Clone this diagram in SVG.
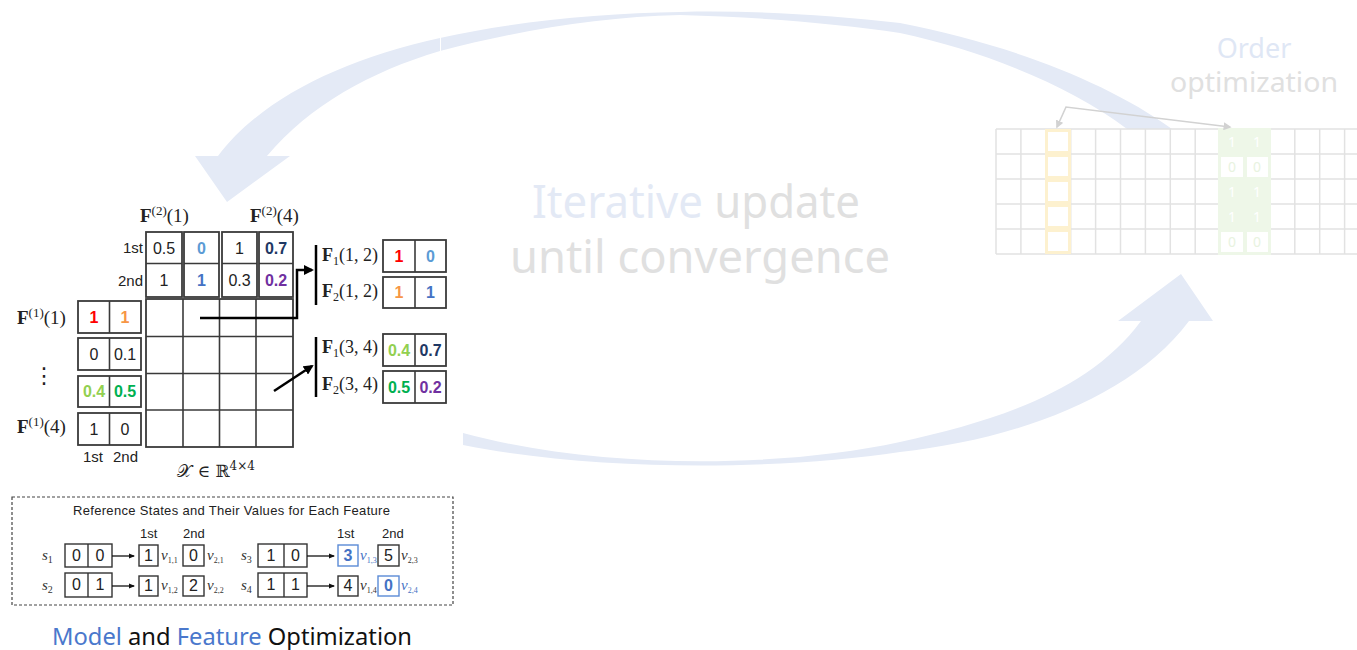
<svg xmlns="http://www.w3.org/2000/svg" width="1357" height="650" viewBox="0 0 1357 650">
  <defs>
    <style>
      .cell { fill: #ffffff; stroke: #3a3a3a; stroke-width: 1.8; }
      .grid { fill: none; stroke: #3a3a3a; stroke-width: 1.6; }
      .num { font-family: "Liberation Sans", Arial, sans-serif; font-size: 16px; text-anchor: middle; fill: #222; }
      .b { font-weight: bold; }
      .lbl { font-family: "Liberation Sans", Arial, sans-serif; font-size: 15px; fill: #222; }
      .math { font-family: "Liberation Serif", "Times New Roman", serif; font-size: 19px; fill: #222; }
      .pair { font-size: 18px; }
      .small { font-family: "Liberation Sans", Arial, sans-serif; font-size: 13px; fill: #222; }
      .sbox { fill: #ffffff; stroke: #333; stroke-width: 1.4; }
      .bbox { fill: #ffffff; stroke: #5b8bd6; stroke-width: 1.4; }
      .ital { font-family: "Liberation Serif", "Times New Roman", serif; font-style: italic; font-size: 15px; fill: #333; }
      .flow { fill: #e4eaf6; }
      .og { fill: none; stroke: #e2e2e2; stroke-width: 1.5; }
      .big { font-family: "Noto Sans", "Open Sans", sans-serif; }
      /* value colours */
      .red { fill: #ff0000; }
      .orange { fill: #f79646; }
      .sky { fill: #5b9bd5; }
      .blue { fill: #4472c4; }
      .lime { fill: #92d050; }
      .green { fill: #00b050; }
      .navy { fill: #1f3864; }
      .purple { fill: #7030a0; }
    </style>
    <marker id="ah" viewBox="0 0 10 10" refX="8" refY="5" markerWidth="4" markerHeight="4" orient="auto">
      <path d="M0,0 L10,5 L0,10 z" fill="#000"/>
    </marker>
    <marker id="ahs" viewBox="0 0 10 10" refX="8" refY="5" markerWidth="5" markerHeight="5" orient="auto">
      <path d="M0,1 L10,5 L0,9 z" fill="#111"/>
    </marker>
    <marker id="ahg" viewBox="0 0 10 10" refX="8" refY="5" markerWidth="5" markerHeight="5" orient="auto-start-reverse">
      <path d="M0,0 L10,5 L0,10 z" fill="#d2d2d2"/>
    </marker>
  </defs>

  <!-- cycle arrows -->
  <g id="cycle-arrows">
    <path class="flow" d="M1172,129 C1105,80 1000,42 900,23 C830,15 750,10 680,12 C600,13 510,22 440,38 C340,60 260,100 218,156 L195,156 L227,202 L290,156 L267,156 C310,105 370,72 440,51 C520,30 600,17 680,15 C760,17 840,24 900,33 C980,50 1070,85 1127,129 Z"/>
    <line x1="440.5" y1="37" x2="440.5" y2="52" stroke="#ffffff" stroke-width="1"/>
    <path class="flow" d="M463,433 C600,470 780,468 900,442 C1000,420 1090,390 1141,321 L1118,321 L1181,274 L1213,321 L1189,321 C1130,400 1010,440 900,452 C780,470 600,472 463,445 Z"/>
  </g>

  <!-- centre caption -->
  <g id="caption-iterate" class="big">
    <text x="532" y="218" font-size="45" textLength="328" lengthAdjust="spacingAndGlyphs"><tspan fill="#e3e9f5">Iterative</tspan><tspan fill="#e0e0e0"> update</tspan></text>
    <text x="510" y="273" font-size="45" fill="#e0e0e0" textLength="380" lengthAdjust="spacingAndGlyphs">until convergence</text>
  </g>

  <!-- order optimisation panel -->
  <g id="order-panel">
    <text class="big" x="1254" y="58" font-size="27" fill="#dfe7f5" text-anchor="middle">Order</text>
    <text class="big" x="1254" y="92" font-size="27" fill="#e0e0e0" text-anchor="middle" textLength="168" lengthAdjust="spacingAndGlyphs">optimization</text>
    <rect x="996" y="129" width="361" height="125" fill="#ffffff"/>
    <g class="og">
      <line x1="996" y1="129" x2="1357" y2="129"/>
      <line x1="996" y1="154" x2="1357" y2="154"/>
      <line x1="996" y1="179" x2="1357" y2="179"/>
      <line x1="996" y1="204" x2="1357" y2="204"/>
      <line x1="996" y1="229" x2="1357" y2="229"/>
      <line x1="996" y1="254" x2="1357" y2="254"/>
      <line x1="996" y1="129" x2="996" y2="254"/>
      <line x1="1020.9" y1="129" x2="1020.9" y2="254"/>
      <line x1="1045.8" y1="129" x2="1045.8" y2="254"/>
      <line x1="1070.7" y1="129" x2="1070.7" y2="254"/>
      <line x1="1095.6" y1="129" x2="1095.6" y2="254"/>
      <line x1="1120.5" y1="129" x2="1120.5" y2="254"/>
      <line x1="1145.4" y1="129" x2="1145.4" y2="254"/>
      <line x1="1170.3" y1="129" x2="1170.3" y2="254"/>
      <line x1="1195.2" y1="129" x2="1195.2" y2="254"/>
      <line x1="1220.1" y1="129" x2="1220.1" y2="254"/>
      <line x1="1245" y1="129" x2="1245" y2="254"/>
      <line x1="1269.9" y1="129" x2="1269.9" y2="254"/>
      <line x1="1294.8" y1="129" x2="1294.8" y2="254"/>
      <line x1="1319.7" y1="129" x2="1319.7" y2="254"/>
      <line x1="1344.6" y1="129" x2="1344.6" y2="254"/>
    </g>
    <!-- highlighted source column -->
    <g fill="none" stroke="#fdf1cf" stroke-width="3">
      <rect x="1046.5" y="130.5" width="23" height="22"/>
      <rect x="1046.5" y="155.5" width="23" height="22"/>
      <rect x="1046.5" y="180.5" width="23" height="22"/>
      <rect x="1046.5" y="205.5" width="23" height="22"/>
      <rect x="1046.5" y="230.5" width="23" height="22"/>
    </g>
    <!-- highlighted target pair -->
    <rect x="1218" y="128" width="53" height="127" fill="#eef7e8"/>
    <g fill="#ffffff">
      <rect x="1221" y="157" width="22" height="20"/>
      <rect x="1247" y="157" width="21" height="20"/>
      <rect x="1221" y="232" width="22" height="20"/>
      <rect x="1247" y="232" width="21" height="20"/>
    </g>
    <g font-family="Noto Sans, sans-serif" font-size="14" text-anchor="middle" fill="#ffffff">
      <text x="1232" y="147">1</text><text x="1257" y="147">1</text>
      <text x="1232" y="197">1</text><text x="1257" y="197">1</text>
      <text x="1232" y="222">1</text><text x="1257" y="222">1</text>
    </g>
    <g font-family="Noto Sans, sans-serif" font-size="14" text-anchor="middle" fill="#e8f3e0">
      <text x="1232" y="172">0</text><text x="1257" y="172">0</text>
      <text x="1232" y="247">0</text><text x="1257" y="247">0</text>
    </g>
    <path d="M1057,127 L1066,107 L1230,127" fill="none" stroke="#d2d2d2" stroke-width="1.6" marker-start="url(#ahg)" marker-end="url(#ahg)"/>
  </g>

  <!-- column feature boxes F(2) -->
  <g id="feature2">
    <text class="math" x="140" y="222"><tspan font-weight="bold">F</tspan><tspan font-size="13" dy="-7">(2)</tspan><tspan dy="7">(1)</tspan></text>
    <text class="math" x="250" y="222"><tspan font-weight="bold">F</tspan><tspan font-size="13" dy="-7">(2)</tspan><tspan dy="7">(4)</tspan></text>
    <text class="lbl" x="143" y="253" text-anchor="end">1st</text>
    <text class="lbl" x="143" y="286" text-anchor="end">2nd</text>
    <rect class="cell" x="146" y="232" width="36" height="65"/>
    <line class="grid" x1="146" y1="263.5" x2="182" y2="263.5"/>
    <rect class="cell" x="184" y="232" width="35" height="65"/>
    <line class="grid" x1="184" y1="263.5" x2="219" y2="263.5"/>
    <rect class="cell" x="222" y="232" width="35" height="65"/>
    <line class="grid" x1="222" y1="263.5" x2="257" y2="263.5"/>
    <rect class="cell" x="259" y="232" width="34" height="65"/>
    <line class="grid" x1="259" y1="263.5" x2="293" y2="263.5"/>
    <text class="num" x="164" y="254">0.5</text>
    <text class="num b sky" x="201.5" y="254">0</text>
    <text class="num" x="239.5" y="254">1</text>
    <text class="num b navy" x="276" y="254">0.7</text>
    <text class="num" x="164" y="286">1</text>
    <text class="num b blue" x="201.5" y="286">1</text>
    <text class="num" x="239.5" y="286">0.3</text>
    <text class="num b purple" x="276" y="286">0.2</text>
  </g>

  <!-- row feature boxes F(1) -->
  <g id="feature1">
    <text class="math" x="17" y="324"><tspan font-weight="bold">F</tspan><tspan font-size="13" dy="-7">(1)</tspan><tspan dy="7">(1)</tspan></text>
    <text class="math" x="17" y="433"><tspan font-weight="bold">F</tspan><tspan font-size="13" dy="-7">(1)</tspan><tspan dy="7">(4)</tspan></text>
    <text x="44" y="383" font-family="DejaVu Sans, sans-serif" font-size="22" fill="#222" text-anchor="middle">⋮</text>
    <rect class="cell" x="78" y="301" width="63" height="32"/>
    <line class="grid" x1="109.5" y1="301" x2="109.5" y2="333"/>
    <rect class="cell" x="78" y="338" width="63" height="32"/>
    <line class="grid" x1="109.5" y1="338" x2="109.5" y2="370"/>
    <rect class="cell" x="78" y="376" width="63" height="31"/>
    <line class="grid" x1="109.5" y1="376" x2="109.5" y2="407"/>
    <rect class="cell" x="78" y="413" width="63" height="32"/>
    <line class="grid" x1="109.5" y1="413" x2="109.5" y2="445"/>
    <text class="num b red" x="94" y="323">1</text>
    <text class="num b orange" x="125" y="323">1</text>
    <text class="num" x="94" y="360">0</text>
    <text class="num" x="125" y="360">0.1</text>
    <text class="num b lime" x="94" y="397">0.4</text>
    <text class="num b green" x="125" y="397">0.5</text>
    <text class="num" x="94" y="435">1</text>
    <text class="num" x="125" y="435">0</text>
    <text class="lbl" x="83" y="462">1st</text>
    <text class="lbl" x="113" y="462">2nd</text>
  </g>

  <!-- tensor X -->
  <g id="tensor">
    <rect x="146" y="299" width="147" height="148" fill="#ffffff" stroke="#3a3a3a" stroke-width="1.8"/>
    <g class="grid">
      <line x1="183" y1="299" x2="183" y2="447"/>
      <line x1="219.5" y1="299" x2="219.5" y2="447"/>
      <line x1="256" y1="299" x2="256" y2="447"/>
      <line x1="146" y1="336.5" x2="293" y2="336.5"/>
      <line x1="146" y1="373.5" x2="293" y2="373.5"/>
      <line x1="146" y1="410" x2="293" y2="410"/>
    </g>
    <text x="177" y="477" font-family="DejaVu Serif, serif" font-size="17" fill="#222">𝒳 ∈ ℝ<tspan font-size="12" dy="-7">4×4</tspan></text>
  </g>

  <!-- pair features -->
  <g id="pair-12">
    <line x1="316" y1="245" x2="316" y2="305" stroke="#000" stroke-width="2.5"/>
    <text class="math pair" x="322" y="261"><tspan font-weight="bold">F</tspan><tspan font-size="12" dy="4">1</tspan><tspan dy="-4">(1, 2)</tspan></text>
    <text class="math pair" x="322" y="297"><tspan font-weight="bold">F</tspan><tspan font-size="12" dy="4">2</tspan><tspan dy="-4">(1, 2)</tspan></text>
    <rect class="cell" x="383" y="240" width="63" height="32"/>
    <line class="grid" x1="415" y1="240" x2="415" y2="272"/>
    <rect class="cell" x="383" y="277" width="63" height="31"/>
    <line class="grid" x1="415" y1="277" x2="415" y2="308"/>
    <text class="num b red" x="399" y="262">1</text>
    <text class="num b sky" x="430.5" y="262">0</text>
    <text class="num b orange" x="399" y="298">1</text>
    <text class="num b blue" x="430.5" y="298">1</text>
  </g>
  <g id="pair-34">
    <line x1="316" y1="337" x2="316" y2="397" stroke="#000" stroke-width="2.5"/>
    <text class="math pair" x="322" y="353"><tspan font-weight="bold">F</tspan><tspan font-size="12" dy="4">1</tspan><tspan dy="-4">(3, 4)</tspan></text>
    <text class="math pair" x="322" y="390"><tspan font-weight="bold">F</tspan><tspan font-size="12" dy="4">2</tspan><tspan dy="-4">(3, 4)</tspan></text>
    <rect class="cell" x="383" y="334" width="63" height="32"/>
    <line class="grid" x1="415" y1="334" x2="415" y2="366"/>
    <rect class="cell" x="383" y="371" width="63" height="32"/>
    <line class="grid" x1="415" y1="371" x2="415" y2="403"/>
    <text class="num b lime" x="399" y="356">0.4</text>
    <text class="num b navy" x="430.5" y="356">0.7</text>
    <text class="num b green" x="399" y="393">0.5</text>
    <text class="num b purple" x="430.5" y="393">0.2</text>
  </g>

  <!-- connectors from tensor cells to pair features -->
  <g id="connectors" fill="none" stroke="#000" stroke-width="2.5">
    <path d="M200,318 L297,318 L297,270 L312,270" marker-end="url(#ah)"/>
    <path d="M274,391 L312,366" marker-end="url(#ah)"/>
  </g>

  <!-- reference states legend -->
  <g id="reference-states">
    <rect x="12" y="497" width="441" height="108" fill="none" stroke="#444" stroke-width="1.2" stroke-dasharray="3,2"/>
    <text class="small" x="73" y="515" textLength="317">Reference States and Their Values for Each Feature</text>
    <text class="small" x="140" y="538">1st</text>
    <text class="small" x="183" y="538">2nd</text>
    <text class="small" x="337" y="538">1st</text>
    <text class="small" x="382" y="538">2nd</text>

    <!-- s1 -->
    <text class="ital" x="42" y="560">s<tspan font-size="10" dy="3" font-style="normal">1</tspan></text>
    <rect class="sbox" x="65" y="544" width="47" height="23"/>
    <line x1="88" y1="544" x2="88" y2="567" stroke="#333" stroke-width="1.4"/>
    <text class="num" x="76.5" y="561" font-size="14">0</text>
    <text class="num" x="100" y="561" font-size="14">0</text>
    <line x1="112" y1="556" x2="134" y2="556" stroke="#111" stroke-width="1.3" marker-end="url(#ahs)"/>
    <rect class="sbox" x="139" y="545" width="19" height="21"/>
    <text class="num" x="148.5" y="561" font-size="15">1</text>
    <text class="ital" x="161" y="560" font-size="12">v<tspan font-size="8" dy="3" font-style="normal">1,1</tspan></text>
    <rect class="sbox" x="183" y="545" width="21" height="21"/>
    <text class="num" x="193.5" y="561" font-size="15">0</text>
    <text class="ital" x="207" y="560" font-size="12">v<tspan font-size="8" dy="3" font-style="normal">2,1</tspan></text>

    <!-- s2 -->
    <text class="ital" x="42" y="590">s<tspan font-size="10" dy="3" font-style="normal">2</tspan></text>
    <rect class="sbox" x="65" y="573" width="47" height="24"/>
    <line x1="88" y1="573" x2="88" y2="597" stroke="#333" stroke-width="1.4"/>
    <text class="num" x="76.5" y="590" font-size="14">0</text>
    <text class="num" x="100" y="590" font-size="14">1</text>
    <line x1="112" y1="586" x2="134" y2="586" stroke="#111" stroke-width="1.3" marker-end="url(#ahs)"/>
    <rect class="sbox" x="139" y="576" width="19" height="20"/>
    <text class="num" x="148.5" y="591" font-size="15">1</text>
    <text class="ital" x="161" y="590" font-size="12">v<tspan font-size="8" dy="3" font-style="normal">1,2</tspan></text>
    <rect class="sbox" x="183" y="576" width="21" height="20"/>
    <text class="num" x="193.5" y="591" font-size="15">2</text>
    <text class="ital" x="207" y="590" font-size="12">v<tspan font-size="8" dy="3" font-style="normal">2,2</tspan></text>

    <!-- s3 -->
    <text class="ital" x="241" y="560">s<tspan font-size="10" dy="3" font-style="normal">3</tspan></text>
    <rect class="sbox" x="258" y="544" width="49" height="23"/>
    <line x1="284" y1="544" x2="284" y2="567" stroke="#333" stroke-width="1.4"/>
    <text class="num" x="271" y="561" font-size="14">1</text>
    <text class="num" x="295.5" y="561" font-size="14">0</text>
    <line x1="307" y1="556" x2="334" y2="556" stroke="#111" stroke-width="1.3" marker-end="url(#ahs)"/>
    <rect class="bbox" x="338" y="545" width="20" height="21"/>
    <text class="num b blue" x="348" y="561" font-size="15">3</text>
    <text class="ital blue" x="360" y="560" font-size="12">v<tspan font-size="8" dy="3" font-style="normal">1,3</tspan></text>
    <rect class="sbox" x="378" y="545" width="21" height="21"/>
    <text class="num" x="388.5" y="561" font-size="15">5</text>
    <text class="ital" x="401" y="560" font-size="12">v<tspan font-size="8" dy="3" font-style="normal">2,3</tspan></text>

    <!-- s4 -->
    <text class="ital" x="241" y="590">s<tspan font-size="10" dy="3" font-style="normal">4</tspan></text>
    <rect class="sbox" x="258" y="573" width="49" height="24"/>
    <line x1="284" y1="573" x2="284" y2="597" stroke="#333" stroke-width="1.4"/>
    <text class="num" x="271" y="590" font-size="14">1</text>
    <text class="num" x="295.5" y="590" font-size="14">1</text>
    <line x1="307" y1="586" x2="334" y2="586" stroke="#111" stroke-width="1.3" marker-end="url(#ahs)"/>
    <rect class="sbox" x="338" y="576" width="20" height="20"/>
    <text class="num" x="348" y="591" font-size="15">4</text>
    <text class="ital" x="360" y="590" font-size="12">v<tspan font-size="8" dy="3" font-style="normal">1,4</tspan></text>
    <rect class="bbox" x="378" y="576" width="21" height="20"/>
    <text class="num b blue" x="388.5" y="591" font-size="15">0</text>
    <text class="ital blue" x="401" y="590" font-size="12">v<tspan font-size="8" dy="3" font-style="normal">2,4</tspan></text>
  </g>

  <!-- panel title -->
  <g id="title-model">
    <text class="big" x="52" y="645" font-size="24" textLength="360" lengthAdjust="spacingAndGlyphs"><tspan fill="#4a78cc">Model</tspan><tspan fill="#111"> and </tspan><tspan fill="#4a78cc">Feature</tspan><tspan fill="#111"> Optimization</tspan></text>
  </g>
</svg>
